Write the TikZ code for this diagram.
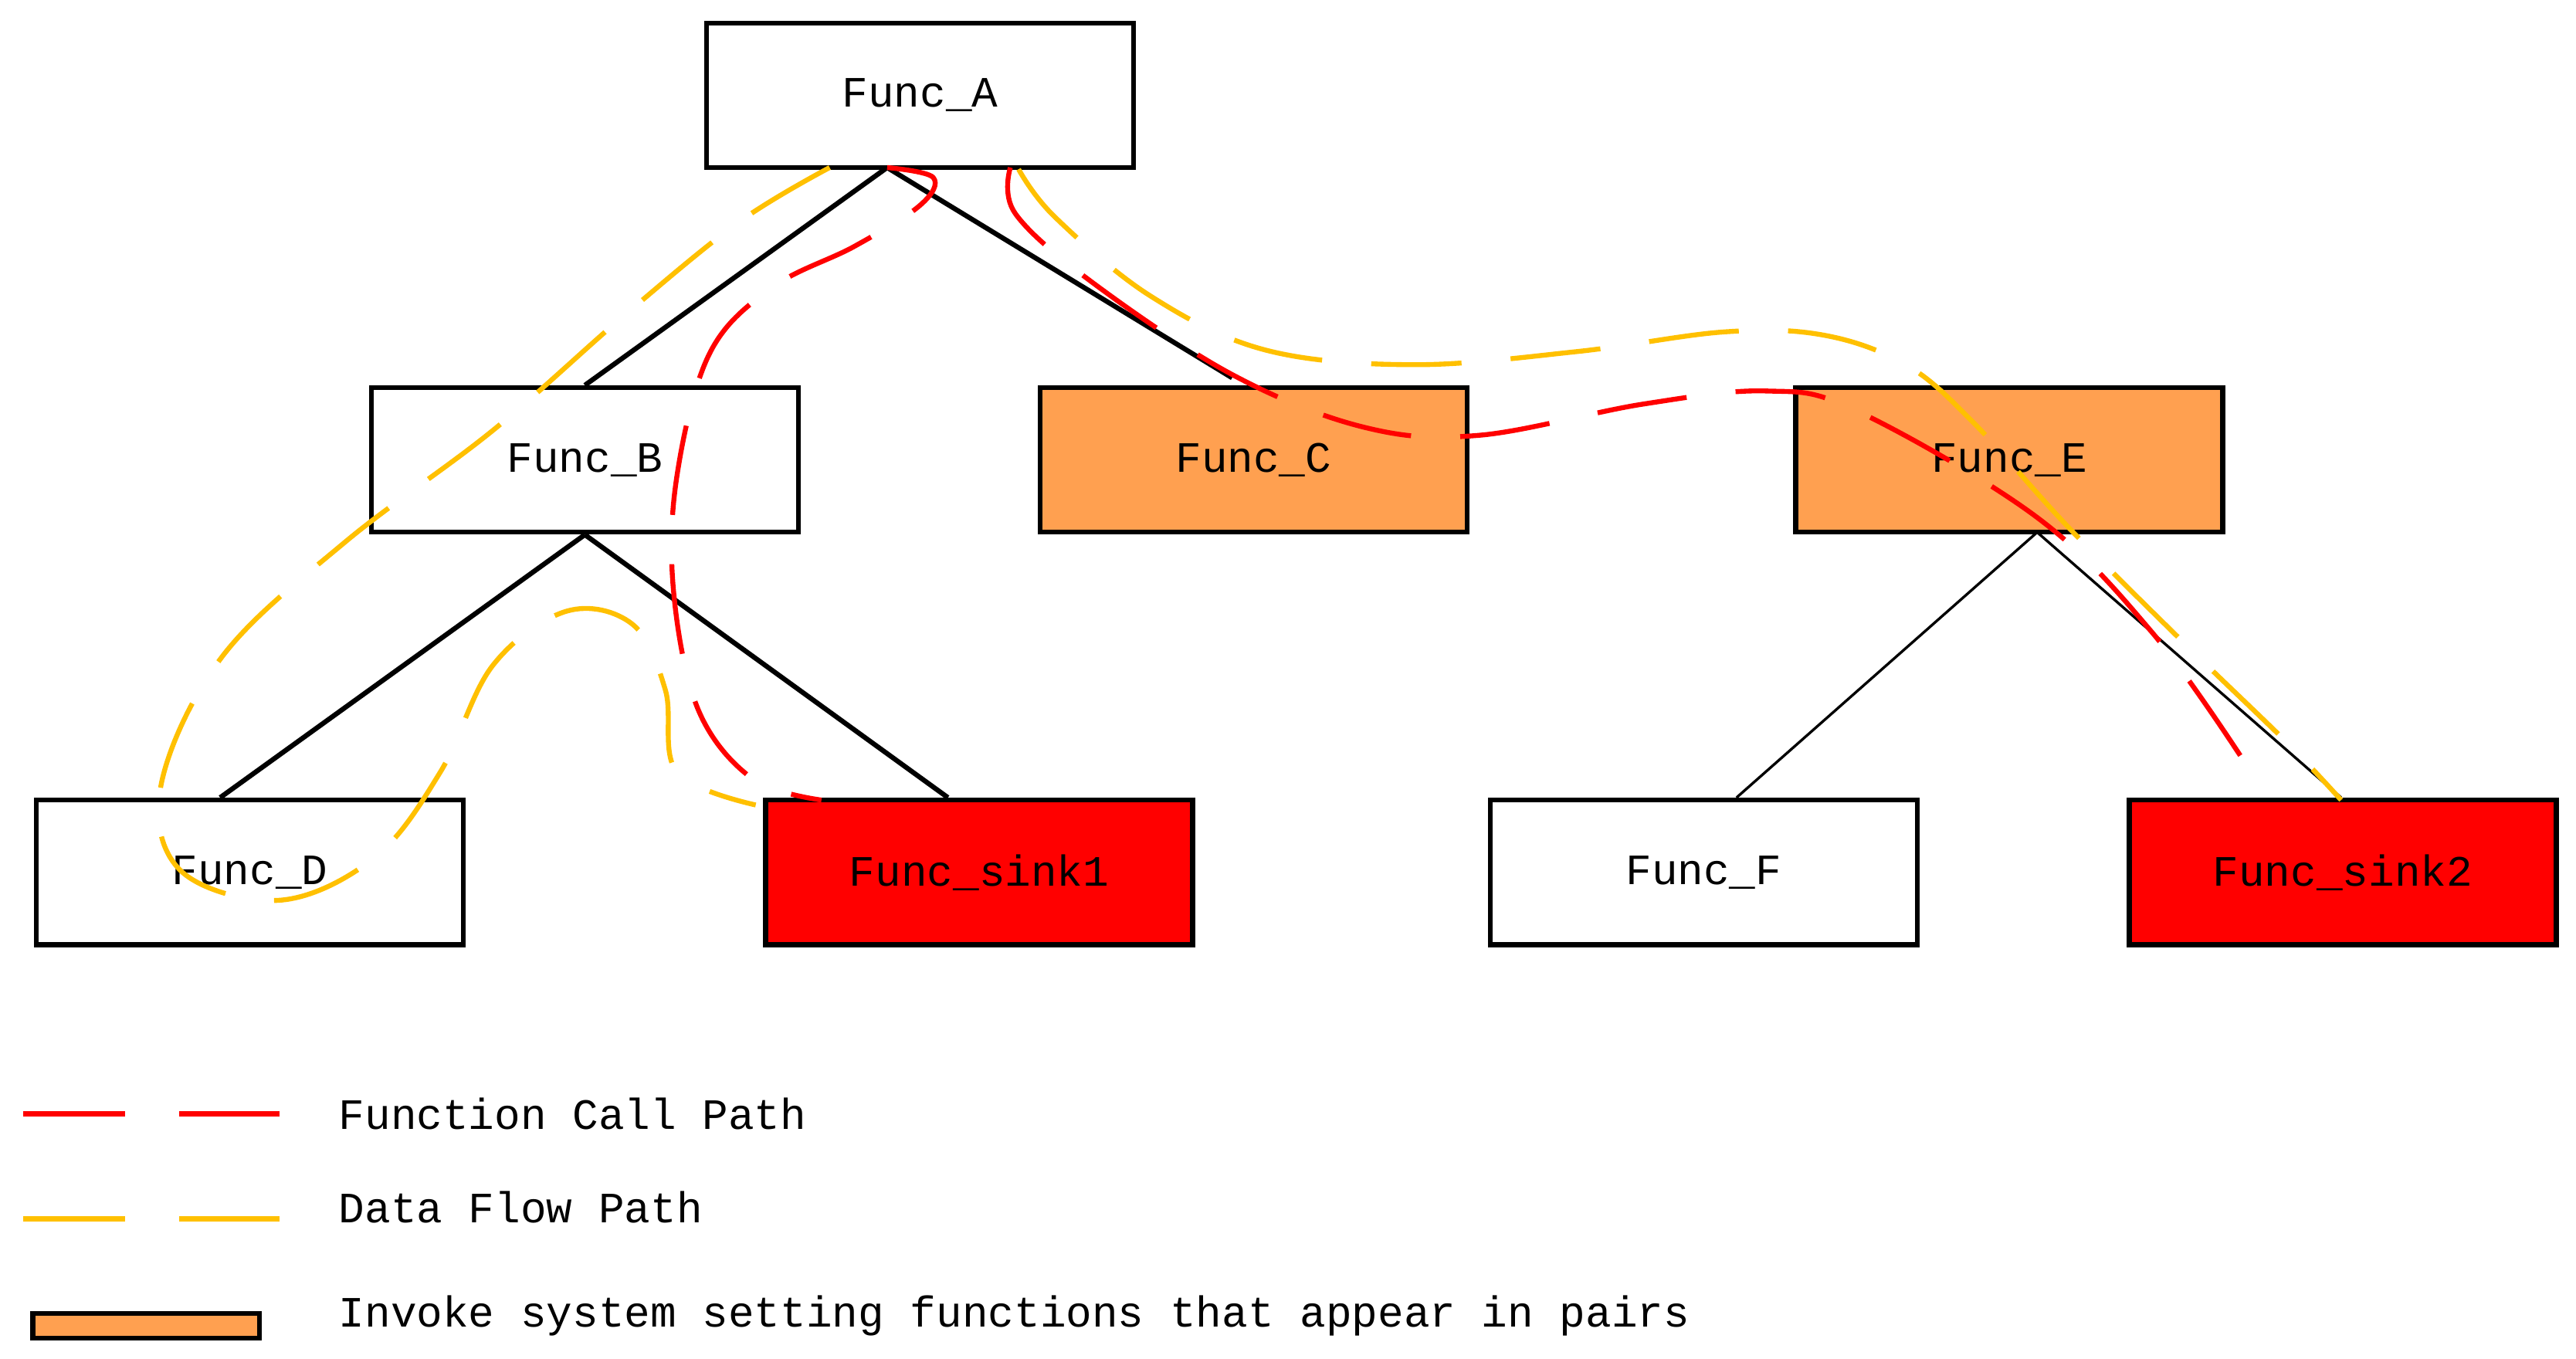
\documentclass[tikz,border=0pt]{standalone}
\usepackage{fontspec}
\setmainfont{Liberation Mono}
\begin{document}
\begin{tikzpicture}[x=0.02cm,y=-0.02cm,
  box/.style={draw,line width=1.7pt,minimum width=5.2cm,minimum height=1.76cm,inner sep=0pt,font=\fontsize{15}{18}\selectfont},
  tree/.style={line width=1.7pt},
  thin/.style={line width=0.9pt},
  call/.style={draw=red,line width=1.7pt,dash pattern=on 1.1cm off 0.6cm},
  flow/.style={draw=orange!60!yellow!95!red,color={rgb,255:red,255;green,192;blue,0},line width=1.7pt,dash pattern=on 1.1cm off 0.6cm},
  lab/.style={anchor=west,font=\fontsize{15}{18}\selectfont}]
\definecolor{org}{RGB}{255,160,80}
\definecolor{yel}{RGB}{255,192,0}
\useasboundingbox (0,0) rectangle (1568,827);
\node[box] (A) at (560,58) {Func\_A};
\node[box] (B) at (356,280) {Func\_B};
\node[box,fill=org] (C) at (763,280) {Func\_C};
\node[box,fill=org] (E) at (1223,280) {Func\_E};
\node[box] (D) at (152,531) {Func\_D};
\node[box,fill=red] (S1) at (596,531) {Func\_sink1};
\node[box] (F) at (1037,531) {Func\_F};
\node[box,fill=red] (S2) at (1426,531) {Func\_sink2};
\coordinate (a1) at (540,102);
\coordinate (c1) at (750,230);
\coordinate (e1) at (1240,324);
\draw[tree] (a1) -- (B.north);
\draw[tree] (a1) -- (c1);
\draw[tree] (B.south) -- (D.north -| 134,0);
\draw[tree] (B.south) -- (S1.north -| 577,0);
\draw[thin] (e1) -- (F.north -| 1057,0);
\draw[thin] (e1) -- (S2.north -| 1425,0);
% paths
\draw[call,draw=red] plot[smooth,tension=0.6] coordinates {(540,102)(568,108)(560,125)(520,150)(470,175)(432,215)(412,290)(410,360)(425,432)(458,474)(500,487)};
\draw[call,draw=red] plot[smooth,tension=0.6] coordinates {(615,102)(618,130)(665,172)(750,228)(830,260)(900,265)(1000,246)(1075,238)(1130,250)(1240,315)(1310,385)(1365,462)};
\draw[call,draw=yel] plot[smooth,tension=0.6] coordinates {(505,102)(450,135)(380,192)(300,262)(210,330)(135,400)(98,478)(110,530)(170,548)(228,522)(268,470)(300,405)(345,372)(385,380)(405,420)(412,470)(460,490)};
\draw[call,draw=yel] plot[smooth,tension=0.6] coordinates {(620,103)(642,132)(700,180)(770,213)(860,222)(960,214)(1050,202)(1110,204)(1160,222)(1200,256)(1260,322)(1330,392)(1392,452)(1425,487)};
% legend
\coordinate (l1a) at (14,678); \coordinate (l1b) at (170,678);
\coordinate (l2a) at (14,742); \coordinate (l2b) at (170,742);
\draw[call,draw=red,dash pattern=on 1.24cm off 0.66cm] (l1a) -- (l1b);
\draw[call,draw=yel,dash pattern=on 1.24cm off 0.66cm] (l2a) -- (l2b);
\node[draw,fill=org,line width=1.7pt,minimum width=2.76cm,minimum height=0.3cm,inner sep=0pt] (lo) at (89,807) {};
\node[lab] (t1) at (200,678) {Function Call Path};
\node[lab] (t2) at (200,735) {Data Flow Path};
\node[lab] (t3) at (200,801) {Invoke system setting functions that appear in pairs};
\end{tikzpicture}
\end{document}
